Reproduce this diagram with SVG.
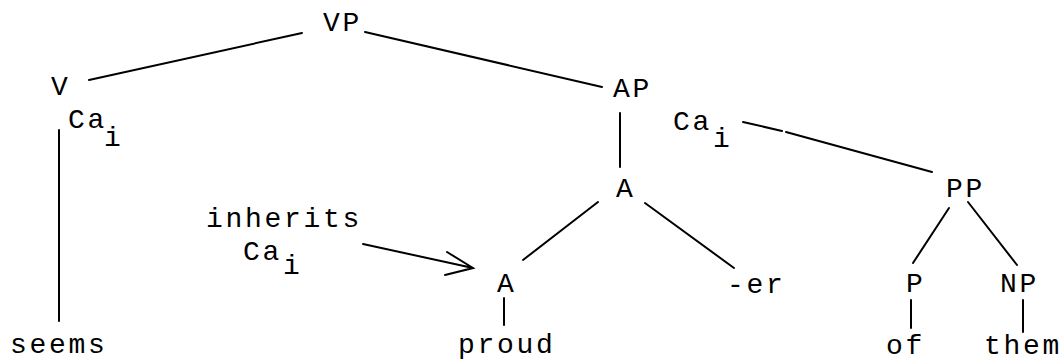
<svg xmlns="http://www.w3.org/2000/svg" width="1064" height="360" viewBox="0 0 1064 360">
<style>
text{font-family:"Liberation Mono","DejaVu Sans Mono",monospace;font-size:28px;letter-spacing:2.7px;fill:#000}
.e{stroke:#000;stroke-width:2;fill:none;stroke-linecap:round}
</style>
<rect width="1064" height="360" fill="#fff"/>
<g id="connectors">
<line class="e" x1="302" y1="33" x2="89" y2="80"/>
<line class="e" x1="365" y1="32" x2="602" y2="87"/>
<line class="e" x1="59" y1="130" x2="59" y2="321"/>
<line class="e" x1="620" y1="113" x2="620" y2="167"/>
<path class="e" d="M743 122 L782 131 M786 132 L932 172"/>
<line class="e" x1="598" y1="202" x2="523" y2="260"/>
<line class="e" x1="645" y1="203" x2="734" y2="268"/>
<line class="e" x1="949" y1="208" x2="913" y2="263"/>
<line class="e" x1="968" y1="202" x2="1017" y2="265"/>
<line class="e" x1="911" y1="300" x2="911" y2="328"/>
<line class="e" x1="1023" y1="300" x2="1023" y2="332"/>
<line class="e" x1="504" y1="298" x2="504" y2="325"/>
<path class="e" d="M363 244 L473 268 M447 252 L473 268 L445 275"/>
</g>
<g id="n-vp"><text x="323" y="31">VP</text></g>
<g id="n-v"><text x="51" y="95">V</text></g>
<g id="n-ca-v"><text x="68" y="128">Ca</text><text x="104" y="146">i</text></g>
<g id="n-seems"><text x="10" y="353">seems</text></g>
<g id="n-ap"><text x="613" y="97">AP</text></g>
<g id="n-ca-ap"><text x="673" y="130">Ca</text><text x="713" y="147">i</text></g>
<g id="n-a"><text x="616" y="197">A</text></g>
<g id="n-inherits"><text x="206" y="227">inherits</text><text x="243" y="260">Ca</text><text x="283" y="274">i</text></g>
<g id="n-a2"><text x="497" y="292">A</text></g>
<g id="n-proud"><text x="458" y="353">proud</text></g>
<g id="n-er"><text x="727" y="293">-er</text></g>
<g id="n-pp"><text x="946" y="197">PP</text></g>
<g id="n-p"><text x="906" y="292">P</text></g>
<g id="n-np"><text x="1000" y="292">NP</text></g>
<g id="n-of"><text x="886" y="354">of</text></g>
<g id="n-them"><text x="984" y="354">them</text></g>
</svg>
